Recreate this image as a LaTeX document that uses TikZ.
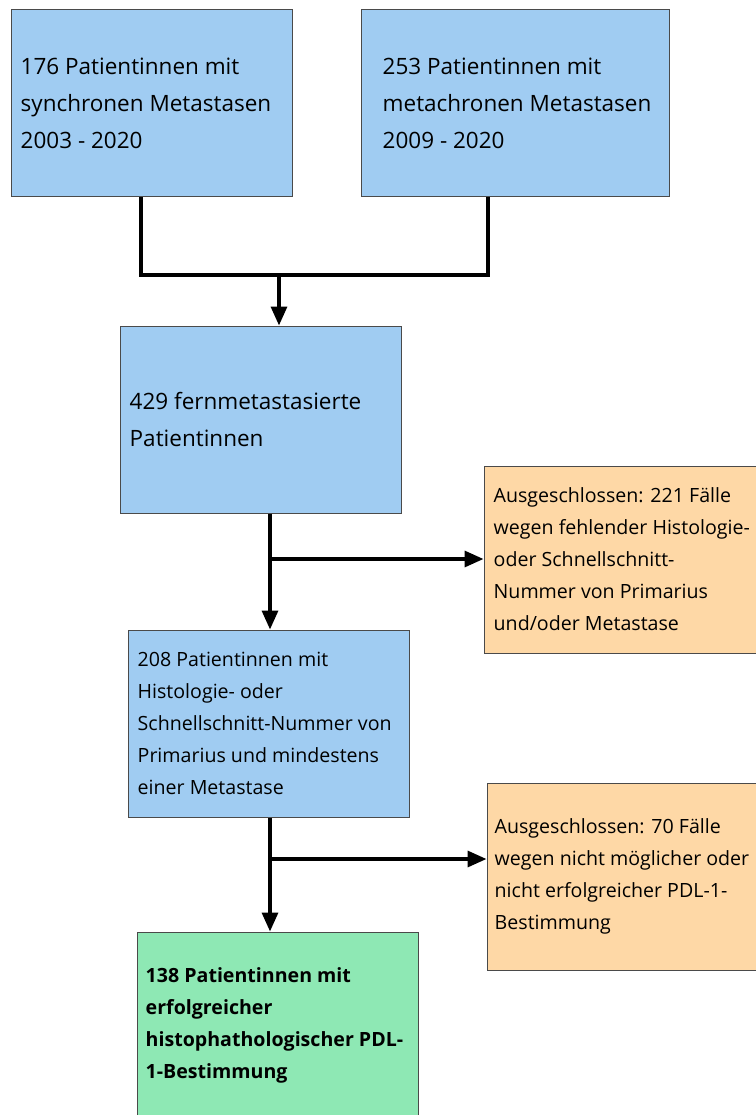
\documentclass[tikz,border=0pt]{standalone}
\usepackage{fontspec}
\setmainfont{Open Sans}
\usetikzlibrary{arrows.meta}
\definecolor{boxblue}{HTML}{A0CCF2}
\definecolor{boxorange}{HTML}{FED8A6}
\definecolor{boxgreen}{HTML}{8EE8B4}
\definecolor{boxline}{HTML}{4A4A4A}
\tikzset{
  box/.style={draw=boxline, line width=1pt, rectangle, inner sep=0pt, minimum width=281pt, minimum height=187pt},
  bluebox/.style={box, fill=boxblue},
  orangebox/.style={box, fill=boxorange, minimum width=290pt},
  greenbox/.style={box, fill=boxgreen},
  bigtxt/.style={anchor=west, align=left, inner sep=0pt, font=\fontsize{22.5}{37}\selectfont},
  smalltxt/.style={anchor=west, align=left, inner sep=0pt, font=\fontsize{19.6}{32}\selectfont},
  conn/.style={line width=3.3pt, black},
  arr/.style={conn, -{Triangle[length=19pt,width=16pt]}}
}
\begin{document}
\begin{tikzpicture}[x=1pt,y=-1pt]
\useasboundingbox (0,0) rectangle (755,1115);
\fill[white] (0,0) rectangle (755,1115);
% boxes
\node[bluebox] (A) at (151.5,103.5) {};
\node[bluebox, minimum width=308pt] (B) at (515,103.5) {};
\node[bluebox] (C) at (260.5,419.5) {};
\node[orangebox] (E) at (629,559.5) {};
\node[bluebox] (D) at (268.5,723.5) {};
\node[orangebox] (G) at (632,876.5) {};
\node[greenbox] (F) at (277.5,1025.5) {};
% texts
\node[bigtxt] (At) at ([xshift=10pt]A.west) {176 Patientinnen mit\\synchronen Metastasen\\2003 - 2020};
\node[bigtxt] (Bt) at ([xshift=22pt]B.west) {253 Patientinnen mit\\metachronen Metastasen\\2009 - 2020};
\node[bigtxt] (Ct) at ([xshift=10pt]C.west) {429 fernmetastasierte\\Patientinnen};
\node[smalltxt] (Et) at ([xshift=10pt]E.west) {Ausgeschlossen: 221 Fälle\\wegen fehlender Histologie-\\oder Schnellschnitt-\\Nummer von Primarius\\und/oder Metastase};
\node[smalltxt] (Dt) at ([xshift=10pt]D.west) {208 Patientinnen mit\\Histologie- oder\\Schnellschnitt-Nummer von\\Primarius und mindestens\\einer Metastase};
\node[smalltxt] (Gt) at ([xshift=8pt]G.west) {Ausgeschlossen: 70 Fälle\\wegen nicht möglicher oder\\nicht erfolgreicher PDL-1-\\Bestimmung};
\node[smalltxt, font=\fontsize{19.6}{32}\selectfont\bfseries] (Ft) at ([xshift=9pt]F.west) {138 Patientinnen mit\\erfolgreicher\\histophathologischer PDL-\\1-Bestimmung};
% connectors
\coordinate (m1) at (279,275);
\draw[conn] ([xshift=-10.5pt]A.south) |- (m1) -| ([xshift=-27pt]B.south);
\draw[arr] (m1) -- (m1 |- C.north);
\coordinate (b1) at (270,559);
\draw[arr] ([xshift=9.5pt]C.south) -- ([xshift=9.5pt]C.south |- D.north);
\draw[arr] (b1) -- (b1 -| E.west);
\coordinate (b2) at (270,859);
\draw[arr] ([xshift=1.5pt]D.south) -- ([xshift=1.5pt]D.south |- F.north);
\draw[arr] (b2) -- (b2 -| G.west);
\end{tikzpicture}
\end{document}
